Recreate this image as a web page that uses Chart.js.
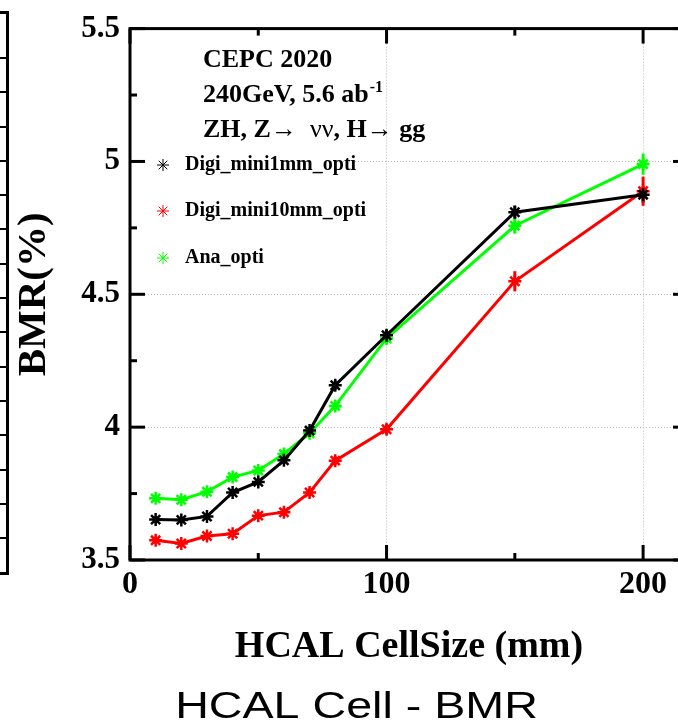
<!DOCTYPE html>
<html>
<head>
<meta charset="utf-8">
<script src="https://cdn.jsdelivr.net/npm/chart.js@4.4.0/dist/chart.umd.min.js"></script>
<style>
  html, body { margin: 0; padding: 0; background: #fff; overflow: hidden; }
  #wrap { position: relative; width: 700px; height: 727px; }
  /* edge of the neighbouring panel, cut off on the left */
  #side { position: absolute; left: 0; top: 11px; width: 6px; height: 558px;
          border-top: 3px solid #000; border-right: 3px solid #000; border-bottom: 3px solid #000; }
  #sideTicks { position: absolute; left: 0; top: 43px; width: 6px; height: 482px;
          background: repeating-linear-gradient(to bottom, #000 0, #000 2px, transparent 2px, transparent 34.3px); }
</style>
</head>
<body>
<div id="wrap">
  <div id="side"><div id="sideTicks"></div></div>
  <canvas id="chart"></canvas>
</div>
<script>
// HCAL cell size (mm)
const cellSize = [10, 20, 30, 40, 50, 60, 70, 80, 100, 150, 200];

// BMR (%) per digitisation
const bmrDigi1mm  = [3.652, 3.651, 3.664, 3.754, 3.794, 3.875, 3.987, 4.158, 4.346, 4.809, 4.875];
const bmrDigi10mm = [3.574, 3.562, 3.590, 3.599, 3.667, 3.680, 3.754, 3.874, 3.992, 4.549, 4.888];
const bmrAna      = [3.732, 3.727, 3.757, 3.812, 3.837, 3.899, 3.977, 4.080, 4.334, 4.758, 4.990];

// errors
const errDigi1mm  = [0.012, 0.012, 0.012, 0.013, 0.013, 0.014, 0.015, 0.017, 0.02, 0.025, 0.03];
const errDigi10mm = [0.012, 0.012, 0.012, 0.013, 0.013, 0.014, 0.015, 0.017, 0.02, 0.038, 0.055];
const errAna      = [0.012, 0.012, 0.012, 0.013, 0.013, 0.014, 0.015, 0.017, 0.02, 0.03, 0.04];

const seriesNames = ['Digi_mini1mm_opti', 'Digi_mini10mm_opti', 'Ana_opti'];
const seriesColors = ['#000000', '#ff0000', '#00ff00'];

// axes
const xTicks = [0, 100, 200];
const xMinor = [50, 150];
const yTicks = [3.5, 4, 4.5, 5, 5.5];
const yMinor = [3.75, 4.25, 4.75, 5.25];
const xRange = [0, 217.5];
const yRange = [3.5, 5.5];

const serif = "'Liberation Serif', 'Times New Roman', serif";

function points(vals) {
  return cellSize.map((x, i) => ({ x: x, y: vals[i] }));
}

const errorBars = {
  id: 'errorBars',
  beforeDatasetsDraw(chart) {
    const ctx = chart.ctx;
    const xs = chart.scales.x, ys = chart.scales.y;
    ctx.save();
    chart.data.datasets.forEach(ds => {
      ctx.strokeStyle = ds.borderColor;
      ctx.lineWidth = 3;
      ds.data.forEach((p, i) => {
        const e = ds.errors[i];
        const px = xs.getPixelForValue(p.x);
        ctx.beginPath();
        ctx.moveTo(px, ys.getPixelForValue(p.y - e));
        ctx.lineTo(px, ys.getPixelForValue(p.y + e));
        ctx.stroke();
      });
    });
    ctx.restore();
  }
};

const frame = {
  id: 'frame',
  afterDatasetsDraw(chart) {
    const ctx = chart.ctx;
    const a = chart.chartArea;

    // legend box + header
    ctx.save();
    ctx.fillStyle = '#fff';
    ctx.fillRect(a.left + 2, 142, 322 - a.left, 136);

    ctx.fillStyle = '#000';
    ctx.textBaseline = 'alphabetic';
    ctx.textAlign = 'left';
    const bold = sz => 'bold ' + sz + 'px ' + serif;
    const reg = sz => sz + 'px ' + serif;
    ctx.font = bold(26);
    ctx.fillText('CEPC 2020', 203, 67);
    let w = ctx.measureText('240GeV, 5.6 ab').width;
    ctx.fillText('240GeV, 5.6 ab', 203, 102);
    ctx.font = bold(16);
    ctx.fillText('-1', 203 + w + 1, 92);

    const parts = [
      ['ZH, Z', bold(26)], ['\u2192', reg(26)], ['  \u03BD\u03BD', reg(26)],
      [', H', bold(26)], ['\u2192', reg(26)], [' gg', bold(26)]
    ];
    let x = 203;
    parts.forEach(([t, f]) => {
      ctx.font = f;
      ctx.fillText(t, x, 137);
      x += ctx.measureText(t).width;
    });

    const rows = [165, 211, 258];
    chart.data.datasets.forEach((ds, i) => {
      ctx.strokeStyle = ds.borderColor;
      ctx.lineWidth = 1;
      Chart.helpers.drawPoint(ctx, { pointStyle: 'star', radius: 6, rotation: 0, borderWidth: 1 }, 163, rows[i]);
      ctx.fillStyle = '#000';
      ctx.font = bold(20);
      ctx.textBaseline = 'middle';
      ctx.fillText(ds.label, 185, rows[i]);
    });
    ctx.restore();
  },
  afterDraw(chart) {
    const ctx = chart.ctx;
    const a = chart.chartArea;
    const xs = chart.scales.x, ys = chart.scales.y;
    ctx.save();
    ctx.strokeStyle = '#000';
    ctx.lineWidth = 3;
    ctx.strokeRect(a.left, a.top, a.right - a.left, a.bottom - a.top);

    const tick = (x1, y1, x2, y2) => { ctx.beginPath(); ctx.moveTo(x1, y1); ctx.lineTo(x2, y2); ctx.stroke(); };
    xTicks.concat(xMinor).forEach(v => {
      const px = xs.getPixelForValue(v);
      const len = xTicks.includes(v) ? 15 : 7;
      tick(px, a.bottom, px, a.bottom - len);
      tick(px, a.top, px, a.top + len);
    });
    yTicks.concat(yMinor).forEach(v => {
      const py = ys.getPixelForValue(v);
      const len = yTicks.includes(v) ? 15 : 7;
      tick(a.left, py, a.left + len, py);
      tick(a.right, py, a.right - len, py);
    });

    // caption under the plot
    ctx.fillStyle = '#000';
    ctx.font = "37px 'Liberation Sans', Arial, sans-serif";
    ctx.textAlign = 'center';
    ctx.textBaseline = 'alphabetic';
    ctx.translate(356.5, 718);
    ctx.scale(1.26, 1);
    ctx.fillText('HCAL Cell - BMR', 0, 0);
    ctx.restore();
  }
};

const datasets = [bmrDigi1mm, bmrDigi10mm, bmrAna].map((vals, i) => ({
  label: seriesNames[i],
  data: points(vals),
  errors: [errDigi1mm, errDigi10mm, errAna][i],
  borderColor: seriesColors[i],
  backgroundColor: seriesColors[i],
  borderWidth: 3,
  pointStyle: 'star',
  pointRadius: 6.5,
  pointBorderWidth: 2.5,
  tension: 0
}));

new Chart(document.getElementById('chart'), {
  type: 'line',
  data: { datasets: datasets },
  options: {
    responsive: true,
    maintainAspectRatio: false,
    animation: false,
    layout: { padding: { left: 0, top: 22, right: 12, bottom: 0 } },
    plugins: { legend: { display: false }, tooltip: { enabled: false } },
    scales: {
      x: {
        type: 'linear',
        min: xRange[0],
        max: xRange[1],
        afterBuildTicks: s => { s.ticks = xTicks.map(v => ({ value: v })); },
        afterFit: s => { s.height = 167; },
        grid: { color: '#bbbbbb', lineWidth: 1, drawTicks: false },
        border: { display: false, dash: [1, 2] },
        ticks: {
          color: '#000',
          padding: 6,
          maxRotation: 0,
          font: { family: serif, weight: 'bold', size: 32 },
          callback: v => String(v)
        },
        title: {
          display: true,
          text: 'HCAL CellSize (mm)',
          color: '#000',
          font: { family: serif, weight: 'bold', size: 38 },
          padding: { top: 0, bottom: 57 }
        }
      },
      y: {
        type: 'linear',
        min: yRange[0],
        max: yRange[1],
        afterBuildTicks: s => { s.ticks = yTicks.map(v => ({ value: v })); },
        afterFit: s => { s.width = 130; },
        grid: { color: '#bbbbbb', lineWidth: 1, drawTicks: false },
        border: { display: false, dash: [1, 2] },
        ticks: {
          color: '#000',
          padding: 10,
          font: { family: serif, weight: 'bold', size: 31 },
          callback: v => String(v)
        },
        title: {
          display: true,
          text: 'BMR(%)',
          color: '#000',
          font: { family: serif, weight: 'bold', size: 41 },
          padding: { top: 10, bottom: 0 }
        }
      }
    }
  },
  plugins: [errorBars, frame]
});
</script>
</body>
</html>
